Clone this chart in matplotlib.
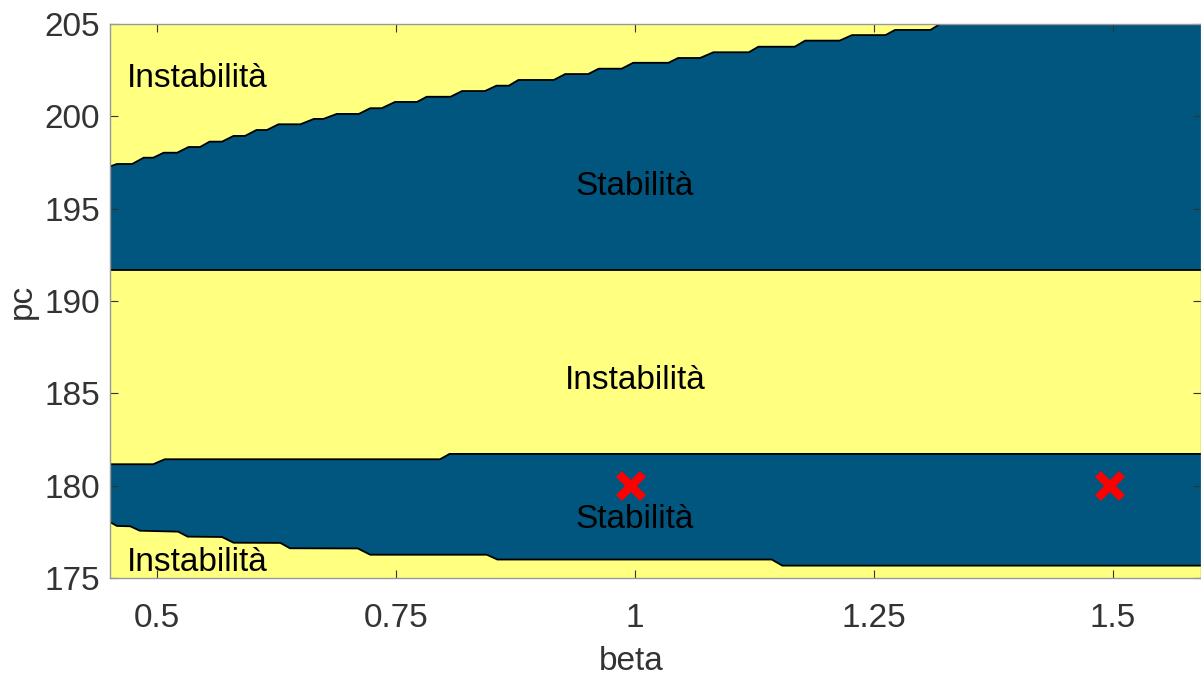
import numpy as np
import matplotlib
matplotlib.use("Agg")
import matplotlib.pyplot as plt

plt.rcParams["font.family"] = ["Liberation Sans", "DejaVu Sans"]

# stability map: boundaries (beta, pc)
lower_beta = [0.45, 0.458, 0.472, 0.482, 0.522, 0.532, 0.568, 0.580, 0.629,
              0.639, 0.710, 0.723, 0.845, 0.856, 1.143, 1.154, 1.60]
lower_pc = [178.05, 177.82, 177.80, 177.56, 177.51, 177.24, 177.22, 176.91,
            176.90, 176.61, 176.60, 176.26, 176.26, 176.00, 176.00, 175.67,
            175.67]

band_beta = [0.45, 0.496, 0.508, 0.796, 0.806, 1.60]
band_pc = [181.16, 181.16, 181.43, 181.43, 181.72, 181.72]

mid_pc = 191.68

upper_beta = [0.45, 0.458, 0.474, 0.486, 0.496, 0.507, 0.521, 0.533, 0.545,
              0.555, 0.568, 0.580, 0.592, 0.604, 0.615, 0.627, 0.650, 0.664,
              0.674, 0.688, 0.711, 0.723, 0.735, 0.749, 0.772, 0.782, 0.807,
              0.819, 0.843, 0.855, 0.868, 0.878, 0.915, 0.927, 0.951, 0.962,
              0.986, 0.998, 1.035, 1.045, 1.068, 1.082, 1.119, 1.129, 1.167,
              1.178, 1.214, 1.227, 1.262, 1.272, 1.309, 1.319, 1.357, 1.368,
              1.60]
upper_pc = [197.27, 197.42, 197.42, 197.76, 197.76, 198.03, 198.03, 198.34,
            198.34, 198.63, 198.63, 198.94, 198.94, 199.26, 199.26, 199.57,
            199.57, 199.86, 199.86, 200.13, 200.13, 200.44, 200.44, 200.78,
            200.78, 201.06, 201.06, 201.37, 201.37, 201.66, 201.66, 201.97,
            201.97, 202.29, 202.29, 202.58, 202.58, 202.90, 202.90, 203.16,
            203.16, 203.47, 203.47, 203.77, 203.77, 204.10, 204.10, 204.40,
            204.40, 204.68, 204.68, 205.00, 205.00, 205.30, 205.30]

points_beta = [0.996, 1.497]
points_pc = [180.0, 180.0]

labels = ["Instabilità", "Stabilità", "Instabilità", "Stabilità", "Instabilità"]
labels_beta = [0.542, 1.0, 1.0, 1.0, 0.542]
labels_pc = [202.05, 196.2, 185.7, 178.17, 175.85]

blue = "#00567e"
yellow = "#ffff80"

fig = plt.figure(figsize=(12.01, 6.82), dpi=100)
ax = fig.add_axes([0.0916, 0.1525, 0.9084, 0.8123])
ax.set_facecolor(yellow)

# lower stable band
ax.fill(np.concatenate([lower_beta, band_beta[::-1]]),
        np.concatenate([lower_pc, band_pc[::-1]]), color=blue, lw=0)
# upper stable band
ax.fill(np.concatenate([[0.45, 1.60], upper_beta[::-1]]),
        np.concatenate([[mid_pc, mid_pc], upper_pc[::-1]]), color=blue, lw=0)

for bx, by in [(lower_beta, lower_pc), (band_beta, band_pc),
               ([0.45, 1.60], [mid_pc, mid_pc]), (upper_beta, upper_pc)]:
    ax.plot(bx, by, color="black", lw=1.3, solid_joinstyle="miter")

ax.plot(points_beta, points_pc, ls="none", marker="x", color="red",
        markersize=17, markeredgewidth=6)

for txt, bx, by in zip(labels, labels_beta, labels_pc):
    ax.text(bx, by, txt, fontsize=24, ha="center", va="center", color="black")

ax.set_xlim(0.4508, 1.592)
ax.set_ylim(175, 205)
ax.set_xticks([0.5, 0.75, 1.0, 1.25, 1.5])
ax.set_xticklabels(["0.5", "0.75", "1", "1.25", "1.5"])
ax.set_yticks([175, 180, 185, 190, 195, 200, 205])
ax.tick_params(direction="in", length=6, width=0.8, colors="#333333",
               labelsize=24, top=True, right=True)
ax.tick_params(axis="x", pad=18)
ax.tick_params(axis="y", pad=7)
for s in ax.spines.values():
    s.set_color("#999999")
    s.set_linewidth(1.0)

ax.set_xlabel("beta", fontsize=24, color="#333333")
ax.xaxis.set_label_coords(0.478, -0.122)
ax.set_ylabel("pc", fontsize=24, color="#333333")
ax.yaxis.set_label_coords(-0.066, 0.5)

fig.savefig("out.png", dpi=100)
